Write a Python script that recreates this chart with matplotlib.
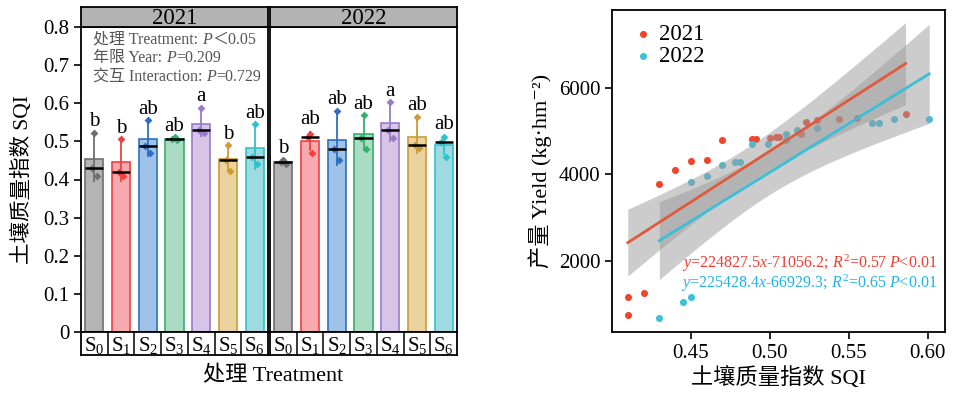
import numpy as np
import matplotlib
matplotlib.use('Agg')
import matplotlib.pyplot as plt
from matplotlib.ticker import FuncFormatter
from matplotlib.offsetbox import TextArea, HPacker, VPacker, AnchoredOffsetbox

FAM = ['Liberation Serif', 'Noto Sans CJK SC', 'DejaVu Serif']
plt.rcParams['font.family'] = FAM
plt.rcParams['mathtext.fontset'] = 'custom'
plt.rcParams['mathtext.rm'] = 'Liberation Serif'
plt.rcParams['mathtext.it'] = 'Liberation Serif:italic'
plt.rcParams['mathtext.bf'] = 'Liberation Serif:bold'

# ---------------- data ----------------
years = ['2021', '2022']
treat_labels = [r'S$_{0}$', r'S$_{1}$', r'S$_{2}$', r'S$_{3}$', r'S$_{4}$', r'S$_{5}$', r'S$_{6}$']

sqi_2021 = [[0.523, 0.429, 0.410], [0.505, 0.420, 0.410], [0.556, 0.489, 0.470],
            [0.511, 0.506, 0.504], [0.588, 0.530, 0.522], [0.490, 0.450, 0.421],
            [0.545, 0.460, 0.440]]
sqi_2022 = [[0.452, 0.445, 0.441], [0.520, 0.512, 0.470], [0.580, 0.479, 0.450],
            [0.569, 0.510, 0.479], [0.602, 0.530, 0.510], [0.565, 0.490, 0.482],
            [0.511, 0.499, 0.460]]
letters_2021 = ['b', 'b', 'ab', 'ab', 'a', 'b', 'ab']
letters_2022 = ['b', 'ab', 'ab', 'ab', 'a', 'ab', 'ab']

sqi_x_2021 = [0.410, 0.410, 0.420, 0.430, 0.440, 0.450, 0.460, 0.470, 0.489, 0.491,
              0.500, 0.504, 0.506, 0.520, 0.523, 0.530, 0.544, 0.555, 0.586]
yield_2021 = [1161, 752, 1253, 3787, 4104, 4319, 4342, 4790, 4821, 4821,
              4837, 4867, 4867, 4944, 5221, 5260, 5276, 5299, 5392]
sqi_x_2022 = [0.430, 0.445, 0.450, 0.450, 0.460, 0.470, 0.478, 0.481, 0.489, 0.499,
              0.510, 0.510, 0.5175, 0.530, 0.565, 0.569, 0.579, 0.601]
yield_2022 = [689, 1045, 1161, 3826, 3972, 4212, 4289, 4289, 4705, 4698,
              4929, 4797, 5029, 5068, 5184, 5184, 5283, 5283]
eq_2021 = r'$y$=224827.5$x$-71056.2; $R^2$=0.57 $P$<0.01'
eq_2022 = r'$y$=225428.4$x$-66929.3; $R^2$=0.65 $P$<0.01'

# ---------------- styles ----------------
edge_cols = ['#6f6f6f', '#f04040', '#2f6fc2', '#36b06c', '#9a7bc6', '#cf9a34', '#2fc2cb']
fill_cols = ['#b4b4b4', '#f7aaad', '#9ec2e8', '#a9dcc3', '#d6c5e6', '#ebd39f', '#9edbe0']
jit = np.array([0.0, -0.09, 0.09])
W, H = 957, 393
TICK = 15

fig = plt.figure(figsize=(W / 100, H / 100), dpi=100)

def fx(px):
    return px / W

def fy(py):
    return 1 - py / H

panels = [(81, sqi_2021, letters_2021), (270, sqi_2022, letters_2022)]
pw = 187
axes = []
for i, (x0, data, lets) in enumerate(panels):
    ax = fig.add_axes([fx(x0), fy(332), pw / W, 305 / H])
    axes.append(ax)
    xs = np.arange(len(data))
    arr = [np.array(d) for d in data]
    means = np.array([a.mean() for a in arr])
    sds = np.array([a.std(ddof=1) for a in arr])
    meds = np.array([np.median(a) for a in arr])
    bw = 0.68
    ax.bar(xs, means, width=bw, color=fill_cols, edgecolor=edge_cols, linewidth=1.2, zorder=2)
    for k in range(len(data)):
        ax.errorbar(xs[k], means[k], yerr=sds[k], fmt='none', ecolor=edge_cols[k],
                    elinewidth=1.3, capsize=0, zorder=3)
        ax.scatter(xs[k] + jit, arr[k], marker='D', s=16, color=edge_cols[k], zorder=4,
                   linewidths=0)
        ax.hlines(meds[k], xs[k] - bw / 2, xs[k] + bw / 2, color='black', lw=1.8, zorder=5)
        top = max(arr[k].max(), means[k] + sds[k])
        ax.text(xs[k], top + 0.017, lets[k], ha='center', va='baseline', fontsize=TICK)
    ax.set_xlim(-0.5, 6.5)
    ax.set_ylim(0, 0.8)
    ax.set_xticks([])
    for s in ax.spines.values():
        s.set_linewidth(1.3)
    if i == 0:
        ax.set_yticks(np.arange(0, 0.81, 0.1))
        ax.yaxis.set_major_formatter(FuncFormatter(lambda v, p: '0' if abs(v) < 1e-9 else f'{v:.1f}'))
        ax.tick_params(axis='y', direction='out', length=5, width=1.2, labelsize=TICK)
    else:
        ax.set_yticks([])
    # strip
    sax = fig.add_axes([fx(x0), fy(27), pw / W, 20 / H])
    sax.set_facecolor('#b3b3b3')
    sax.set_xticks([]); sax.set_yticks([])
    for s in sax.spines.values():
        s.set_linewidth(1.3)
    sax.text(0.5, 0.42, years[i], ha='center', va='center', fontsize=16.5, transform=sax.transAxes)
    # label boxes
    lax = fig.add_axes([fx(x0), fy(355), pw / W, 23 / H])
    lax.set_xlim(-0.5, 6.5); lax.set_ylim(0, 1)
    lax.set_xticks([]); lax.set_yticks([])
    for s in lax.spines.values():
        s.set_linewidth(1.3)
    for b in np.arange(0.5, 6.0, 1.0):
        lax.axvline(b, color='black', lw=1.1)
    for k, lab in enumerate(treat_labels):
        lax.text(k, 0.42, lab, ha='center', va='center', fontsize=TICK)

# annotation text in 2021 panel
tp = dict(fontsize=11.5, color='#555555', fontfamily=FAM)
tpi = dict(fontsize=11.5, color='#555555', fontfamily=FAM, fontstyle='italic')
lines = [('处理 Treatment: ', '＜0.05'), ('年限 Year: ', '=0.209'), ('交互 Interaction: ', '=0.729')]
rows = []
for a, b in lines:
    rows.append(HPacker(children=[TextArea(a, textprops=tp), TextArea('P', textprops=tpi),
                                  TextArea(b, textprops=tp)], pad=0, sep=0, align='baseline'))
box = VPacker(children=rows, pad=0, sep=1.8, align='left')
anch = AnchoredOffsetbox(loc='upper left', child=box, frameon=False, pad=0, borderpad=0,
                         bbox_to_anchor=(0.065, 0.985), bbox_transform=axes[0].transAxes)
axes[0].add_artist(anch)

fig.text(fx(22), fy(180), '土壤质量指数 SQI', rotation=90, ha='center', va='center', fontsize=15.5)
fig.text(fx(273), fy(376), '处理 Treatment', ha='center', va='center', fontsize=16)

# ---------------- right panel ----------------
rax = fig.add_axes([fx(612), fy(332), 333 / W, 322 / H])
red_pt, cyan_pt = '#f0452a', '#3ec0d8'
red_ln, cyan_ln = '#e05a3c', '#3bbfd9'
band_col = (155 / 255, 155 / 255, 155 / 255)

def fit_band(x, y, ax, lc):
    x = np.asarray(x); y = np.asarray(y)
    n = len(x)
    b, a = np.polyfit(x, y, 1)
    xm = x.mean(); sxx = ((x - xm) ** 2).sum()
    res = y - (a + b * x)
    s = np.sqrt((res ** 2).sum() / (n - 2))
    t = 2.11
    xx = np.linspace(x.min(), x.max(), 100)
    yy = a + b * xx
    hw = t * s * np.sqrt(1 / n + (xx - xm) ** 2 / sxx)
    ax.fill_between(xx, yy - hw, yy + hw, color=band_col, alpha=0.5, linewidth=0, zorder=3)
    ax.plot(xx, yy, color=lc, lw=2, zorder=4)

rax.scatter(sqi_x_2021, yield_2021, s=26, color=red_pt, zorder=2, linewidths=0, label='2021')
rax.scatter(sqi_x_2022, yield_2022, s=26, color=cyan_pt, zorder=2, linewidths=0, label='2022')
fit_band(sqi_x_2021, yield_2021, rax, red_ln)
fit_band(sqi_x_2022, yield_2022, rax, cyan_ln)

rax.set_xlim(0.40, 0.611)
rax.set_ylim(358, 7803)
rax.set_xticks([0.45, 0.50, 0.55, 0.60])
rax.xaxis.set_major_formatter(FuncFormatter(lambda v, p: f'{v:.2f}'))
rax.set_yticks([2000, 4000, 6000])
rax.tick_params(direction='out', length=5, width=1.2, labelsize=TICK)
for s in rax.spines.values():
    s.set_linewidth(1.3)
rax.set_xlabel('土壤质量指数 SQI', fontsize=16, labelpad=3)
rax.set_ylabel('产量 Yield (kg·hm⁻²)', fontsize=16, labelpad=5)
rax.legend(loc='upper left', frameon=False, fontsize=16.5, handlelength=0.8, handletextpad=0.3,
           labelspacing=0.05, borderaxespad=0.2, bbox_to_anchor=(0.025, 1.0))
rax.text(0.975, 0.212, eq_2021, color='#f03c32', fontsize=11.5, ha='right', va='center',
         transform=rax.transAxes)
rax.text(0.975, 0.152, eq_2022, color='#1fb4e6', fontsize=11.5, ha='right', va='center',
         transform=rax.transAxes)

fig.savefig('out.png', dpi=100)
